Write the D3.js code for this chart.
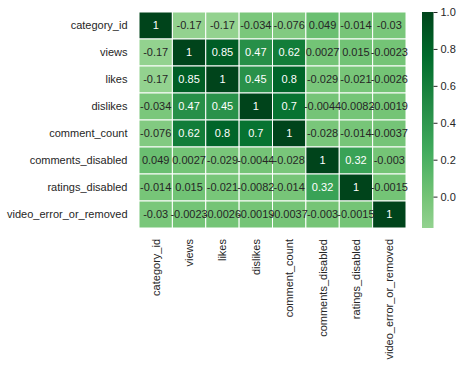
<!DOCTYPE html>
<html>
<head>
<meta charset="utf-8">
<script src="https://cdn.jsdelivr.net/npm/d3@7"></script>
<style>
  body { margin: 0; background: #fff; }
  text { font-family: "Liberation Sans", Arial, sans-serif; }
</style>
</head>
<body>
<svg id="chart" width="465" height="366"></svg>
<script>
// variable names, same order on both axes
const columns = ["category_id", "views", "likes", "dislikes", "comment_count",
  "comments_disabled", "ratings_disabled", "video_error_or_removed"];

// correlation rows
const rowCategory = [1, -0.17, -0.17, -0.034, -0.076, 0.049, -0.014, -0.03];
const rowViews = [-0.17, 1, 0.85, 0.47, 0.62, 0.0027, 0.015, -0.0023];
const rowLikes = [-0.17, 0.85, 1, 0.45, 0.8, -0.029, -0.021, -0.0026];
const rowDislikes = [-0.034, 0.47, 0.45, 1, 0.7, -0.0044, -0.0082, -0.0019];
const rowComments = [-0.076, 0.62, 0.8, 0.7, 1, -0.028, -0.014, -0.0037];
const rowCommentsDisabled = [0.049, 0.0027, -0.029, -0.0044, -0.028, 1, 0.32, -0.003];
const rowRatingsDisabled = [-0.014, 0.015, -0.021, -0.0082, -0.014, 0.32, 1, -0.0015];
const rowVideoError = [-0.03, -0.0023, -0.0026, -0.0019, -0.0037, -0.003, -0.0015, 1];

const colorbarTicks = [0.0, 0.2, 0.4, 0.6, 0.8, 1.0];

const matrix = [rowCategory, rowViews, rowLikes, rowDislikes, rowComments,
  rowCommentsDisabled, rowRatingsDisabled, rowVideoError];

// flatten into cells
const cells = [];
matrix.forEach((row, i) => {
  row.forEach((v, j) => cells.push({ row: columns[i], col: columns[j], value: v }));
});

const vmin = d3.min(cells, d => d.value);
const vmax = d3.max(cells, d => d.value);

// matplotlib "Greens", centred on 0 like seaborn's center=0
const greens = ["#f7fcf5", "#e5f5e0", "#c7e9c0", "#a1d99b", "#74c476",
  "#41ab5d", "#238b45", "#006d2c", "#00441b"];
const greensScale = d3.scaleLinear()
  .domain(d3.range(greens.length).map(i => i / (greens.length - 1)))
  .range(greens)
  .interpolate(d3.interpolateRgb)
  .clamp(true);
const vrange = Math.max(vmax - 0, 0 - vmin);
function color(v) {
  return greensScale((v + vrange) / (2 * vrange));
}

// relative luminance -> text colour (seaborn rule)
function textColor(c) {
  const rgb = d3.rgb(c);
  const lin = [rgb.r, rgb.g, rgb.b].map(x => {
    x = x / 255;
    return x <= 0.03928 ? x / 12.92 : Math.pow((x + 0.055) / 1.055, 2.4);
  });
  const lum = 0.2126 * lin[0] + 0.7152 * lin[1] + 0.0722 * lin[2];
  return lum > 0.408 ? "#262626" : "#ffffff";
}

const fmt = d3.formatLocale({ decimal: ".", thousands: ",", grouping: [3], currency: ["", ""], minus: "-" });
const annotFmt = fmt.format(".2~g");
const tickFmt = fmt.format(".1f");

const svg = d3.select("#chart");

const mLeft = 139, mTop = 12, mRight = 406, mBottom = 228;

const x = d3.scaleBand().domain(columns).range([mLeft, mRight]);
const y = d3.scaleBand().domain(columns).range([mTop, mBottom]);

// cells
svg.append("g")
  .selectAll("rect")
  .data(cells)
  .join("rect")
  .attr("x", d => x(d.col))
  .attr("y", d => y(d.row))
  .attr("width", x.bandwidth())
  .attr("height", y.bandwidth())
  .attr("fill", d => color(d.value))
  .attr("stroke", "#ffffff")
  .attr("stroke-width", 1);

// annotations
svg.append("g")
  .selectAll("text")
  .data(cells)
  .join("text")
  .attr("x", d => x(d.col) + x.bandwidth() / 2)
  .attr("y", d => y(d.row) + y.bandwidth() / 2)
  .attr("dy", "0.36em")
  .attr("text-anchor", "middle")
  .attr("font-size", 11)
  .attr("fill", d => textColor(color(d.value)))
  .text(d => annotFmt(d.value));

// y tick labels
svg.append("g")
  .selectAll("text")
  .data(columns)
  .join("text")
  .attr("x", mLeft - 11.5)
  .attr("y", d => y(d) + y.bandwidth() / 2)
  .attr("dy", "0.36em")
  .attr("text-anchor", "end")
  .attr("font-size", 11)
  .attr("fill", "#262626")
  .text(d => d);

// x tick labels, rotated
svg.append("g")
  .selectAll("text")
  .data(columns)
  .join("text")
  .attr("transform", d => `translate(${x(d) + x.bandwidth() / 2},${mBottom + 11}) rotate(-90)`)
  .attr("dy", "0.36em")
  .attr("text-anchor", "end")
  .attr("font-size", 11)
  .attr("fill", "#262626")
  .text(d => d);

// colorbar
const cbX = 422, cbW = 11.5;
const cbScale = d3.scaleLinear().domain([vmin, vmax]).range([mBottom, mTop]);

const defs = svg.append("defs");
const grad = defs.append("linearGradient")
  .attr("id", "cbGrad")
  .attr("x1", 0).attr("y1", 1).attr("x2", 0).attr("y2", 0);
d3.range(0, 1.0001, 0.05).forEach(t => {
  grad.append("stop")
    .attr("offset", t)
    .attr("stop-color", color(vmin + t * (vmax - vmin)));
});

svg.append("rect")
  .attr("x", cbX)
  .attr("y", mTop)
  .attr("width", cbW)
  .attr("height", mBottom - mTop)
  .attr("fill", "url(#cbGrad)");

const cbAxis = svg.append("g")
  .attr("transform", `translate(${cbX + cbW},0)`)
  .call(d3.axisRight(cbScale).tickValues(colorbarTicks).tickFormat(tickFmt).tickSize(4).tickPadding(3));
cbAxis.select(".domain").remove();
cbAxis.selectAll("line").attr("stroke", "#262626");
cbAxis.selectAll("text")
  .attr("font-size", 11)
  .attr("font-family", "Liberation Sans, Arial, sans-serif")
  .attr("fill", "#262626");
</script>
</body>
</html>
